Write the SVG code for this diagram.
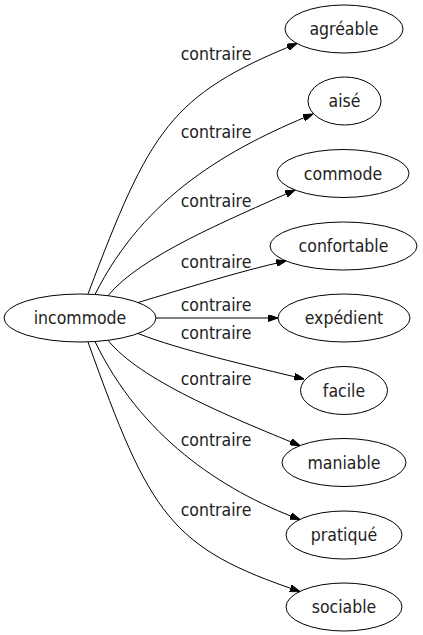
<svg xmlns="http://www.w3.org/2000/svg" width="423" height="635" viewBox="0 0 423 635">
<style>
  .node ellipse { fill: none; stroke: #000; stroke-width: 1; }
  text { font-family: "DejaVu Sans Condensed", "DejaVu Sans", "Liberation Sans", sans-serif; font-stretch: condensed; font-size: 17.5px; fill: #222; text-anchor: middle; }
  .edges path { fill: none; stroke: #000; stroke-width: 1; marker-end: url(#arrow); }
</style>
<defs>
  <marker id="arrow" markerUnits="userSpaceOnUse" markerWidth="10" markerHeight="7" refX="10" refY="3.5" orient="auto">
    <path d="M0,0 L10,3.5 L0,7 Z" fill="#000" stroke="#000" stroke-width="1"/>
  </marker>
</defs>
<rect width="423" height="635" fill="#fff"/>
<g class="edges" id="connectors">
  <path d="M88,294 C150,130 170,95 297,43.5"/>
  <path d="M95,294.5 C144.5,195.6 229.8,148.1 313,114"/>
  <path d="M108,295.7 C140,256.2 227.6,220.3 295,190"/>
  <path d="M138,302.5 C180,290 240,271 286,261"/>
  <path d="M156,318 L278,318"/>
  <path d="M138,333.5 C180,350 250,366 304,379"/>
  <path d="M108,340.3 C140,380 227.6,416 300,445.6"/>
  <path d="M95,341.5 C140,435 220,490 300,519.5"/>
  <path d="M88,342 C150,515 170,548 300,591.5"/>
  <text x="216" y="60">contraire</text>
  <text x="216" y="138">contraire</text>
  <text x="216" y="207">contraire</text>
  <text x="216" y="268">contraire</text>
  <text x="216" y="311">contraire</text>
  <text x="216" y="339">contraire</text>
  <text x="216" y="385">contraire</text>
  <text x="216" y="446">contraire</text>
  <text x="216" y="516">contraire</text>
</g>
<g class="node" id="incommode"><ellipse cx="80" cy="318" rx="76" ry="24"/><text x="80" y="324">incommode</text></g>
<g class="node" id="agreable"><ellipse cx="344" cy="29" rx="59" ry="24"/><text x="344" y="35">agréable</text></g>
<g class="node" id="aise"><ellipse cx="344.5" cy="101" rx="36.5" ry="24"/><text x="344.5" y="107">aisé</text></g>
<g class="node" id="commode"><ellipse cx="343" cy="173.5" rx="66" ry="24"/><text x="343" y="179.5">commode</text></g>
<g class="node" id="confortable"><ellipse cx="343.5" cy="246" rx="73.5" ry="24"/><text x="343.5" y="252">confortable</text></g>
<g class="node" id="expedient"><ellipse cx="344" cy="318" rx="66" ry="24"/><text x="344" y="324">expédient</text></g>
<g class="node" id="facile"><ellipse cx="344" cy="390.5" rx="43.5" ry="24"/><text x="344" y="396.5">facile</text></g>
<g class="node" id="maniable"><ellipse cx="344" cy="462.5" rx="62" ry="24"/><text x="344" y="468.5">maniable</text></g>
<g class="node" id="pratique"><ellipse cx="344" cy="535" rx="58" ry="24"/><text x="344" y="541">pratiqué</text></g>
<g class="node" id="sociable"><ellipse cx="344" cy="607" rx="58" ry="24"/><text x="344" y="613">sociable</text></g>
</svg>
